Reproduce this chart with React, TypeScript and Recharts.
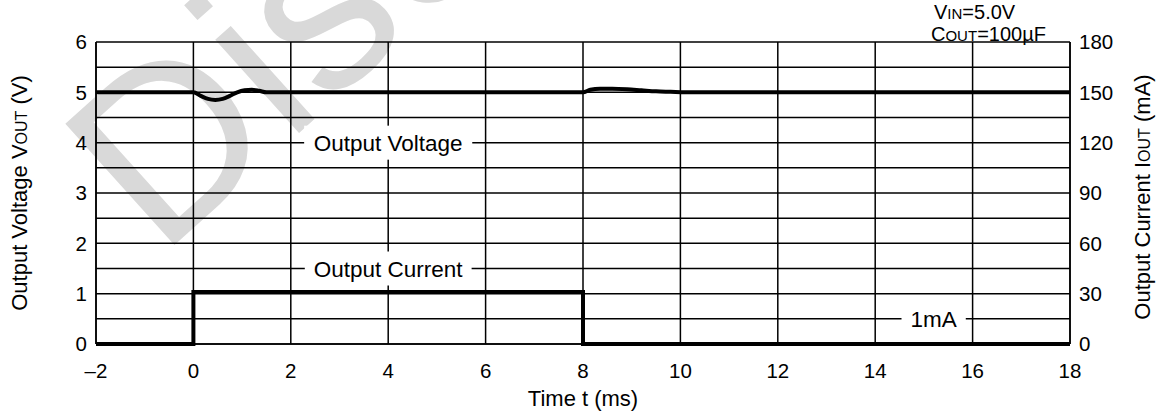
import React from "react";
import {
  ComposedChart,
  Line,
  XAxis,
  YAxis,
  CartesianGrid,
  ReferenceDot,
  Label,
} from "recharts";

// time axis (ms)
const timeTicks = [-2, 0, 2, 4, 6, 8, 10, 12, 14, 16, 18];
// left axis: gridlines every 0.5 V, labels on whole volts
const voltGrid = [0, 0.5, 1, 1.5, 2, 2.5, 3, 3.5, 4, 4.5, 5, 5.5, 6];
const currentTicks = [0, 30, 60, 90, 120, 150, 180];

// output voltage trace
const voltT = [-2, 0, 0.15, 0.3, 0.45, 0.6, 0.75, 0.9, 1.05, 1.2, 1.35, 1.5, 8, 8.15, 8.35, 8.6, 8.9, 9.2, 9.5, 9.8, 10.1, 18];
const voltV = [5.0, 5.0, 4.93, 4.87, 4.85, 4.87, 4.93, 5.0, 5.04, 5.05, 5.03, 5.0, 5.0, 5.05, 5.07, 5.07, 5.06, 5.04, 5.02, 5.01, 5.0, 5.0];

// output current trace (mA), step load
const currT = [-2, 0, 0, 8, 8, 18];
const currI = [0, 0, 31, 31, 0, 0];

const boxLabels = [
  { t: 4, v: 4, text: "Output Voltage" },
  { t: 4, v: 1.5, text: "Output Current" },
  { t: 15.2, v: 0.5, text: "1mA" },
];

const voltData = voltT.map((t, k) => ({ t, v: voltV[k] }));
const currData = currT.map((t, k) => ({ t, i: currI[k] }));

const FONT = "'Liberation Sans', Arial, Helvetica, sans-serif";
const tickStyle = { fontSize: 20.5, fill: "#000", fontFamily: FONT };
const LABEL_SIZE = 22.5;

// rough Arial advance widths (em) for sizing the white label boxes
const charW: Record<string, number> = {
  O: 0.778, C: 0.722, V: 0.667, A: 0.667, "1": 0.556, " ": 0.278,
  u: 0.556, t: 0.278, p: 0.556, o: 0.556, l: 0.222, a: 0.556, g: 0.556,
  e: 0.556, r: 0.333, n: 0.556, m: 0.833,
};
const textWidth = (s: string, size: number) =>
  s.split("").reduce((acc, c) => acc + (charW[c] ?? 0.556), 0) * size;

const fmtTime = (v: number) => (v < 0 ? `\u2013${Math.abs(v)}` : `${v}`);
const fmtVolt = (v: number) => (Number.isInteger(v) ? `${v}` : "");

function BoxLabel({ viewBox, text }: any) {
  if (!viewBox) return null;
  const cx = viewBox.x + viewBox.width / 2;
  const cy = viewBox.y + viewBox.height / 2;
  const w = textWidth(text, LABEL_SIZE) + 18;
  return (
    <g>
      <rect x={cx - w / 2} y={cy - 17} width={w} height={34} fill="#fff" />
      <text
        x={cx}
        y={cy}
        dy="0.36em"
        textAnchor="middle"
        fontSize={LABEL_SIZE}
        fontFamily={FONT}
        fill="#000"
      >
        {text}
      </text>
    </g>
  );
}

function LeftTitle({ viewBox }: any) {
  const x = 27;
  const y = viewBox.y + viewBox.height / 2;
  return (
    <text x={x} y={y} transform={`rotate(-90 ${x} ${y})`} textAnchor="middle" fontSize={22} fontFamily={FONT} fill="#000">
      <tspan>Output Voltage V</tspan>
      <tspan fontSize={16}>OUT</tspan>
      <tspan> (V)</tspan>
    </text>
  );
}

function RightTitle({ viewBox }: any) {
  const x = 1150;
  const y = viewBox.y + viewBox.height / 2 + 4;
  return (
    <text x={x} y={y} transform={`rotate(-90 ${x} ${y})`} textAnchor="middle" fontSize={22} fontFamily={FONT} fill="#000">
      <tspan>Output Current I</tspan>
      <tspan fontSize={16}>OUT</tspan>
      <tspan> (mA)</tspan>
    </text>
  );
}

function BottomTitle({ viewBox }: any) {
  const x = viewBox.x + viewBox.width / 2;
  const y = viewBox.y + 62;
  return (
    <text x={x} y={y} textAnchor="middle" fontSize={22} fontFamily={FONT} fill="#000">
      Time t (ms)
    </text>
  );
}

export default function App() {
  return (
    <div style={{ position: "absolute", left: 0, top: 0, width: 1168, height: 415, background: "#fff", fontFamily: FONT }}>
      {/* watermark, sits behind the chart */}
      <svg width={1168} height={415} style={{ position: "absolute", left: 0, top: 0 }}>
        <text
          x={160}
          y={258}
          transform="rotate(-42 160 258)"
          fontSize={237}
          fontFamily={FONT}
          fill="#d9d9d9"
        >
          Discontinued
        </text>
      </svg>

      <div style={{ position: "absolute", left: 0, top: 0 }}>
        <ComposedChart width={1168} height={415} margin={{ top: 42, right: 0, bottom: 0, left: 0 }}>
          <CartesianGrid yAxisId="v" stroke="#000" strokeWidth={1.5} strokeOpacity={1} />
          <XAxis
            type="number"
            dataKey="t"
            domain={[-2, 18]}
            ticks={timeTicks}
            allowDataOverflow
            height={71}
            tickSize={0}
            tickMargin={19}
            tickFormatter={fmtTime}
            tick={tickStyle}
            axisLine={{ stroke: "#000", strokeWidth: 1.5 }}
            interval={0}
          >
            <Label content={<BottomTitle />} />
          </XAxis>
          <YAxis
            yAxisId="v"
            domain={[0, 6]}
            ticks={voltGrid}
            width={96}
            tickSize={0}
            tickMargin={9}
            tickFormatter={fmtVolt}
            tick={tickStyle}
            axisLine={{ stroke: "#000", strokeWidth: 1.5 }}
            interval={0}
          >
            <Label content={<LeftTitle />} />
          </YAxis>
          <YAxis
            yAxisId="i"
            orientation="right"
            domain={[0, 180]}
            ticks={currentTicks}
            width={98}
            tickSize={0}
            tickMargin={9}
            tick={tickStyle}
            axisLine={{ stroke: "#000", strokeWidth: 1.5 }}
            interval={0}
          >
            <Label content={<RightTitle />} />
          </YAxis>

          {boxLabels.map((b) => (
            <ReferenceDot
              key={b.text}
              yAxisId="v"
              x={b.t}
              y={b.v}
              r={0}
              fill="none"
              stroke="none"
              label={<BoxLabel text={b.text} />}
            />
          ))}

          <Line
            yAxisId="i"
            data={currData}
            dataKey="i"
            type="linear"
            stroke="#000"
            strokeWidth={4}
            dot={false}
            isAnimationActive={false}
          />
          <Line
            yAxisId="v"
            data={voltData}
            dataKey="v"
            type="monotone"
            stroke="#000"
            strokeWidth={4}
            dot={false}
            isAnimationActive={false}
          />
        </ComposedChart>
      </div>

      <svg width={1168} height={415} style={{ position: "absolute", left: 0, top: 0, pointerEvents: "none" }}>
        <text x={934} y={18.5} fontSize={20} fontFamily={FONT} fill="#000">
          <tspan>V</tspan>
          <tspan fontSize={15}>IN</tspan>
          <tspan>=5.0V</tspan>
        </text>
        <text x={931} y={41} fontSize={20} fontFamily={FONT} fill="#000">
          <tspan>C</tspan>
          <tspan fontSize={15}>OUT</tspan>
          <tspan>=100µF</tspan>
        </text>
      </svg>
    </div>
  );
}
